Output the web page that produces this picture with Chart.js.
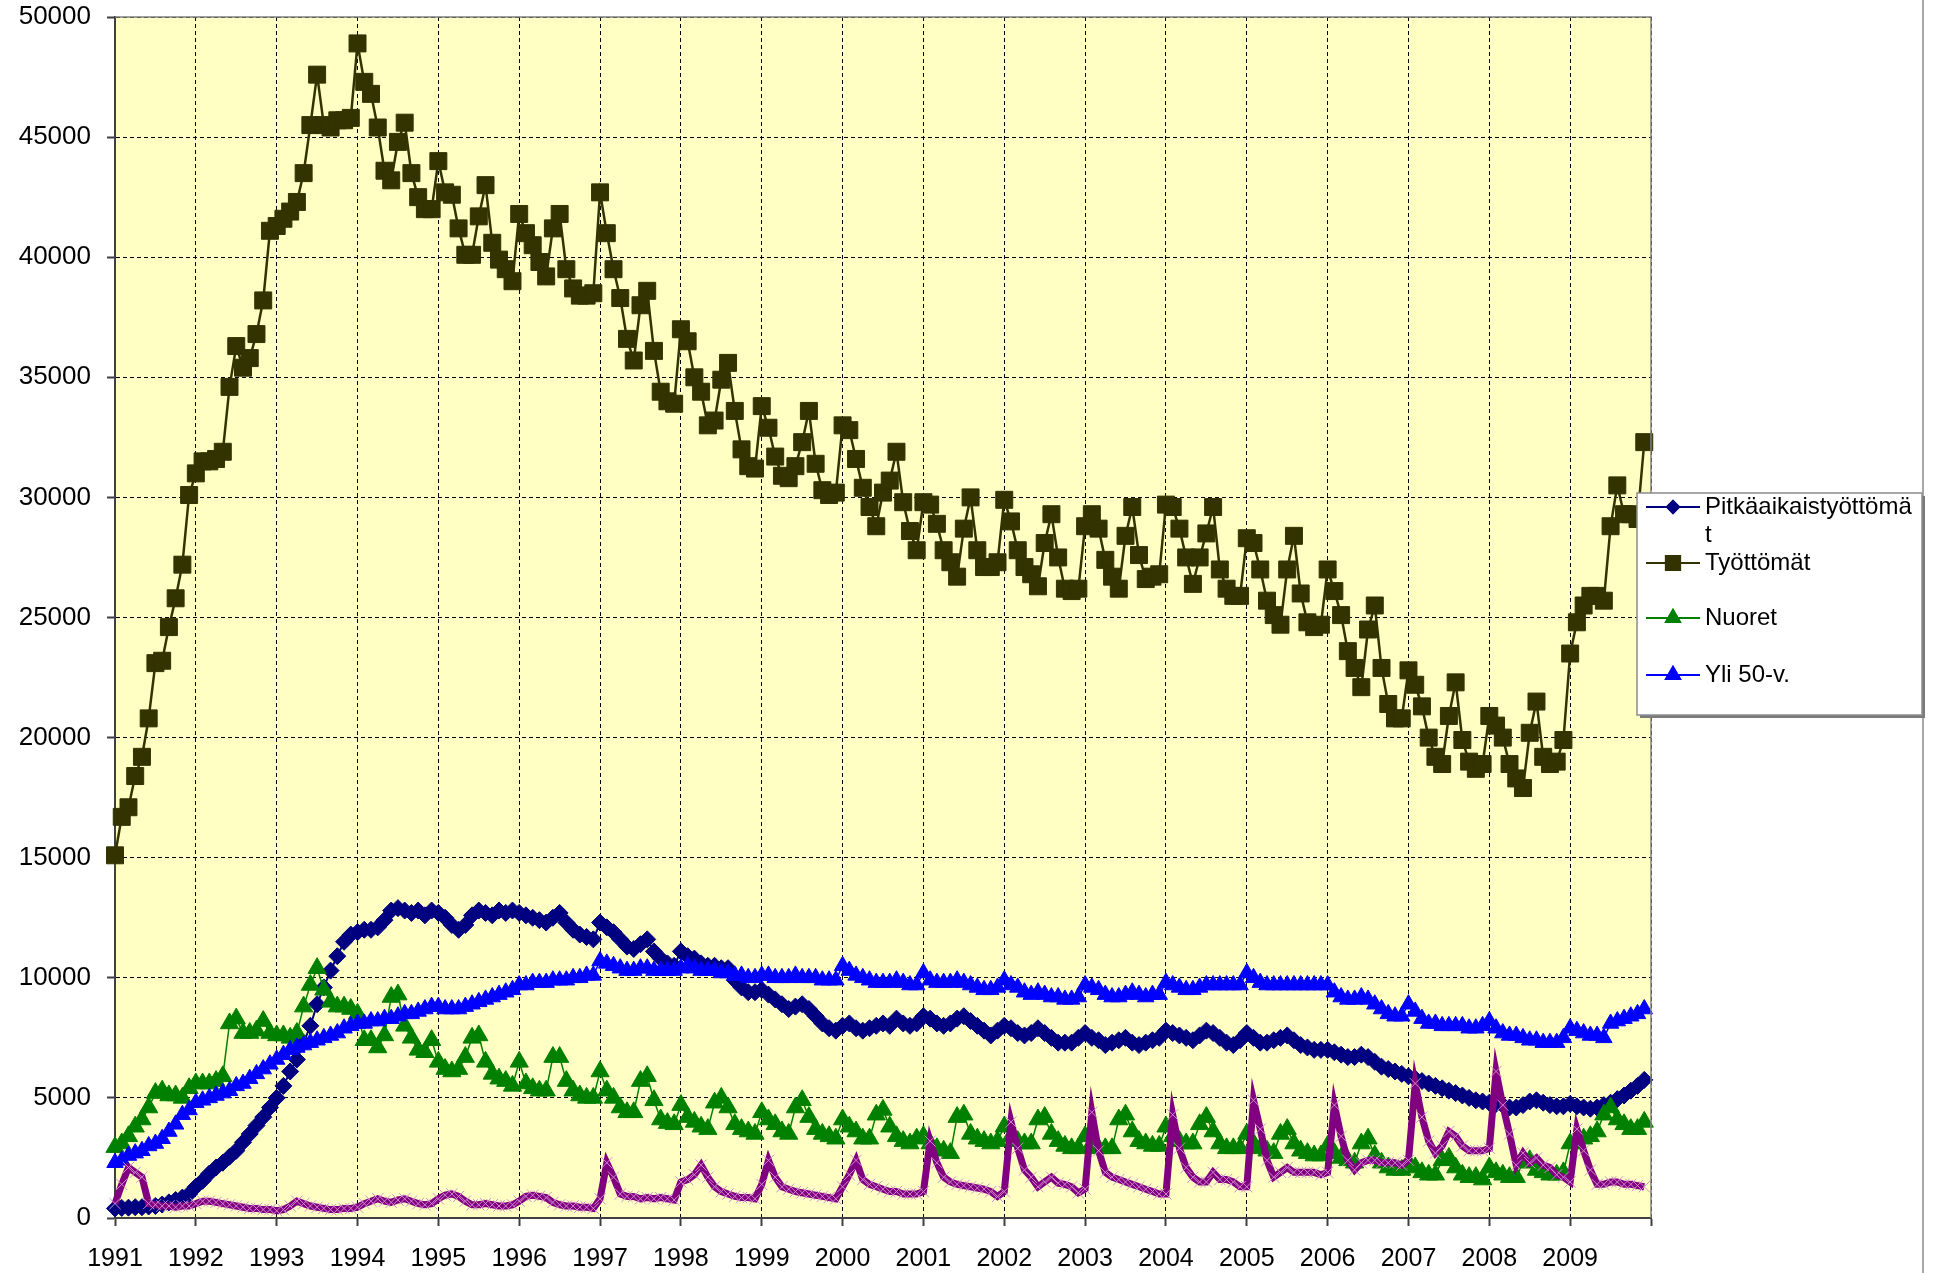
<!DOCTYPE html>
<html>
<head>
<meta charset="utf-8">
<title>Työttömät 1991–2009</title>
<script src="https://cdn.jsdelivr.net/npm/chart.js@4.4.1/dist/chart.umd.min.js"></script>
<style>
  html, body { margin: 0; padding: 0; background: #fff; }
  #wrap { position: relative; width: 1934px; height: 1273px; }
</style>
</head>
<body>
<div id="wrap"><canvas id="chart" width="1934" height="1273"></canvas></div>
<script>
// monthly values, Jan 1991 .. Dec 2009 (one row per year)
const yearLabels = ["1991", "1992", "1993", "1994", "1995", "1996", "1997", "1998", "1999", "2000",
  "2001", "2002", "2003", "2004", "2005", "2006", "2007", "2008", "2009"];

const pitkaaikaistyottomat = [
  400, 420, 430, 450, 450, 480, 500, 560, 650, 750, 850, 1000,
  1300, 1550, 1850, 2100, 2300, 2550, 2800, 3150, 3500, 3850, 4200, 4600,
  5000, 5500, 6100, 6600, 7300, 8000, 8900, 9600, 10300, 10900, 11500, 11800,
  11900, 12000, 12000, 12100, 12400, 12800, 12900, 12800, 12700, 12800, 12600, 12800,
  12700, 12500, 12200, 12000, 12200, 12600, 12800, 12700, 12600, 12800, 12700, 12800,
  12700, 12600, 12500, 12400, 12300, 12500, 12700, 12300, 12000, 11800, 11700, 11600,
  12300, 12100, 11900, 11600, 11300, 11200, 11400, 11600, 11100, 10800, 10600, 10500,
  11100, 10900, 10800, 10600, 10500, 10500, 10400, 10400, 9900, 9600, 9400, 9400,
  9500, 9300, 9100, 8900, 8700, 8800, 8900, 8700, 8400, 8100, 7900, 7800,
  8000, 8100, 7900, 7800, 7900, 8000, 8100, 8000, 8300, 8100, 8000, 8100,
  8400, 8300, 8100, 8000, 8100, 8300, 8400, 8200, 8000, 7800, 7600, 7800,
  8000, 7900, 7700, 7600, 7700, 7900, 7700, 7500, 7300, 7300, 7300, 7500,
  7700, 7500, 7400, 7200, 7300, 7400, 7500, 7300, 7200, 7300, 7400, 7500,
  7800, 7700, 7600, 7500, 7400, 7600, 7800, 7700, 7500, 7300, 7200, 7400,
  7700, 7500, 7300, 7300, 7400, 7500, 7600, 7400, 7200, 7100, 7000, 7000,
  7000, 6900, 6800, 6700, 6700, 6800, 6700, 6500, 6300, 6200, 6100, 6000,
  5900, 5800, 5700, 5600, 5500, 5400, 5300, 5200, 5100, 5000, 4900, 4850,
  4800, 4750, 4700, 4600, 4600, 4700, 4850, 4900, 4800, 4700, 4650, 4650,
  4750, 4650, 4600, 4550, 4600, 4700, 4800, 4950, 5100, 5300, 5500, 5750,
];

const tyottomat = [
  15100, 16700, 17100, 18400, 19200, 20800, 23100, 23200, 24600, 25800, 27200, 30100,
  31000, 31500, 31500, 31600, 31900, 34600, 36300, 35400, 35800, 36800, 38200, 41100,
  41300, 41600, 41900, 42300, 43500, 45500, 47600, 45500, 45400, 45700, 45700, 45800,
  48900, 47300, 46800, 45400, 43600, 43200, 44800, 45600, 43500, 42500, 42000, 42000,
  44000, 42700, 42600, 41200, 40100, 40100, 41700, 43000, 40600, 39900, 39500, 39000,
  41800, 41000, 40500, 39800, 39200, 41200, 41800, 39500, 38700, 38400, 38400, 38500,
  42700, 41000, 39500, 38300, 36600, 35700, 38000, 38600, 36100, 34400, 34000, 33900,
  37000, 36500, 35000, 34400, 33000, 33200, 34900, 35600, 33600, 32000, 31300, 31200,
  33800, 32900, 31700, 30900, 30800, 31300, 32300, 33600, 31400, 30300, 30100, 30200,
  33000, 32800, 31600, 30400, 29600, 28800, 30200, 30700, 31900, 29800, 28600, 27800,
  29800, 29700, 28900, 27800, 27300, 26700, 28700, 30000, 27800, 27100, 27100, 27300,
  29900, 29000, 27800, 27100, 26800, 26300, 28100, 29300, 27500, 26200, 26100, 26200,
  28800, 29300, 28700, 27400, 26700, 26200, 28400, 29600, 27600, 26600, 26700, 26800,
  29700, 29600, 28700, 27500, 26400, 27500, 28500, 29600, 27000, 26200, 25900, 25900,
  28300, 28100, 27000, 25700, 25100, 24700, 27000, 28400, 26000, 24800, 24600, 24700,
  27000, 26100, 25100, 23600, 22900, 22100, 24500, 25500, 22900, 21400, 20800, 20800,
  22800, 22200, 21300, 20000, 19200, 18900, 20900, 22300, 19900, 19000, 18700, 18900,
  20900, 20500, 20000, 18900, 18300, 17900, 20200, 21500, 19200, 18900, 19000, 19900,
  23500, 24800, 25500, 25900, 25900, 25700, 28800, 30500, 29300, 29300, 29100, 32300,
];

const nuoret = [
  2950, 3100, 3400, 3800, 4100, 4600, 5200, 5300, 5100, 5100, 5000, 5400,
  5600, 5600, 5600, 5700, 5900, 8100, 8300, 7700, 7700, 7800, 8200, 7700,
  7600, 7600, 7500, 7700, 8800, 9700, 10400, 9500, 9000, 8800, 8800, 8700,
  8500, 7400, 7400, 7100, 7600, 9200, 9300, 8000, 7500, 7000, 6900, 7400,
  6500, 6200, 6100, 6200, 6700, 7500, 7600, 6500, 6000, 5800, 5700, 5500,
  6500, 5600, 5400, 5300, 5300, 6700, 6700, 5700, 5300, 5100, 5000, 5000,
  6100, 5300, 5000, 4600, 4400, 4400, 5700, 5900, 4900, 4100, 3950, 3900,
  4700, 4200, 4000, 3800, 3700, 4800, 5000, 4600, 3900, 3700, 3600, 3500,
  4400, 4100, 3900, 3600, 3500, 4600, 4900, 4200, 3700, 3500, 3400, 3300,
  4100, 3800, 3600, 3300, 3300, 4300, 4500, 3800, 3400, 3200, 3100, 3300,
  3400, 3100, 2900, 2800, 2700, 4200, 4300, 3500, 3300, 3200, 3100, 3200,
  3800, 3400, 3200, 3100, 3100, 4100, 4200, 3500, 3200, 3000, 2900, 2900,
  3400, 3100, 2900, 2900, 2900, 4100, 4300, 3600, 3200, 3100, 3000, 3000,
  3800, 3400, 3200, 3100, 3100, 3900, 4200, 3600, 3100, 2900, 2900, 2900,
  3500, 3100, 2900, 2800, 2700, 3500, 3700, 3100, 2800, 2700, 2600, 2600,
  3000, 2700, 2500, 2400, 2300, 3100, 3300, 2600, 2300, 2100, 2000, 2000,
  2300, 2100, 1900, 1800, 1800, 2400, 2500, 2100, 1800, 1700, 1700, 1600,
  2100, 1900, 1800, 1700, 1700, 2300, 2400, 2000, 1900, 1800, 1800, 1900,
  3100, 3200, 3300, 3400, 3600, 4300, 4600, 4100, 3900, 3700, 3700, 4000,
];

const yli50 = [
  2300, 2400, 2600, 2700, 2800, 3000, 3100, 3300, 3600, 3900, 4300, 4500,
  4800, 4900, 5000, 5100, 5200, 5300, 5500, 5600, 5800, 6000, 6200, 6400,
  6600, 6800, 7000, 7100, 7200, 7300, 7400, 7500, 7600, 7700, 7900, 8000,
  8100, 8100, 8200, 8200, 8300, 8300, 8400, 8500, 8500, 8600, 8700, 8800,
  8800, 8700, 8700, 8700, 8800, 8900, 9000, 9100, 9200, 9300, 9400, 9500,
  9700, 9700, 9800, 9800, 9800, 9900, 9900, 9900, 10000, 10000, 10100, 10100,
  10700, 10600, 10500, 10400, 10300, 10300, 10400, 10400, 10300, 10300, 10300, 10300,
  10400, 10500, 10400, 10300, 10300, 10300, 10200, 10200, 10100, 10100, 10000, 10000,
  10100, 10100, 10000, 10000, 10000, 10100, 10000, 10000, 10000, 9900, 9900, 9900,
  10500, 10300, 10100, 10000, 9900, 9800, 9800, 9800, 9900, 9800, 9700, 9700,
  10200, 9900, 9800, 9800, 9800, 9900, 9800, 9700, 9600, 9500, 9500, 9600,
  9900, 9700, 9600, 9400, 9300, 9400, 9300, 9200, 9200, 9100, 9100, 9200,
  9700, 9600, 9500, 9300, 9200, 9200, 9300, 9400, 9300, 9200, 9300, 9300,
  9800, 9700, 9600, 9500, 9500, 9600, 9700, 9700, 9700, 9700, 9700, 9700,
  10200, 10000, 9800, 9700, 9700, 9700, 9700, 9700, 9700, 9700, 9700, 9700,
  9700, 9400, 9200, 9100, 9100, 9200, 9100, 8900, 8700, 8500, 8400, 8400,
  8900, 8600, 8300, 8100, 8100, 8000, 8000, 8000, 8000, 7900, 7900, 8000,
  8200, 7900, 7700, 7600, 7600, 7500, 7400, 7400, 7300, 7300, 7300, 7500,
  7900, 7800, 7700, 7600, 7600, 7500, 8100, 8200, 8300, 8400, 8500, 8700,
];

// fifth series (purple, not shown in the legend)
const sarja5 = [
  600, 1400, 2100, 1900, 1700, 600, 550, 500, 500, 450, 500, 500,
  600, 700, 700, 650, 600, 550, 500, 450, 400, 400, 350, 350,
  300, 350, 500, 700, 600, 500, 450, 400, 350, 350, 400, 400,
  450, 600, 700, 800, 700, 650, 750, 800, 700, 600, 550, 600,
  800, 950, 1000, 900, 700, 550, 550, 600, 550, 500, 500, 550,
  700, 900, 950, 900, 850, 650, 550, 500, 500, 450, 450, 400,
  800, 2300, 1700, 1000, 900, 900, 800, 850, 800, 850, 800, 750,
  1500, 1600, 1800, 2200, 1700, 1300, 1100, 1000, 900, 850, 850, 800,
  1400, 2400, 1700, 1300, 1200, 1100, 1050, 1000, 950, 900, 850, 800,
  1300, 1800, 2400, 1600, 1400, 1300, 1200, 1100, 1100, 1000, 1000, 1000,
  1100, 3200, 2300, 1700, 1500, 1400, 1350, 1300, 1250, 1200, 1100, 900,
  1100, 4000, 2900, 2000, 1700, 1300, 1500, 1700, 1450, 1400, 1300, 1050,
  1200, 4400, 2800, 1900, 1700, 1600, 1500, 1400, 1300, 1200, 1100, 1000,
  1000, 4300, 2900, 2100, 1700, 1500, 1500, 1900, 1600, 1600, 1500, 1300,
  1300, 4900, 3700, 2400, 1700, 1900, 2100, 1900, 1900, 1900, 1900, 1800,
  1900, 4700, 3400, 2400, 2000, 2300, 2400, 2400, 2300, 2300, 2300, 2200,
  2400, 5600, 4200, 3200, 2700, 3000, 3600, 3400, 3000, 2800, 2800, 2800,
  2900, 6100, 4700, 3500, 2200, 2700, 2300, 2500, 2200, 2100, 1800, 1700,
  1500, 3700, 2800, 2000, 1400, 1400, 1500, 1500, 1400, 1400, 1350, 1300,
];

const FONT = "'Liberation Sans', Arial, sans-serif";

function pts(values) {
  return values.map((v, i) => ({ x: i, y: v }));
}

// yellow plot area + grey frame on top/right
const plotBackground = {
  id: "plotBackground",
  beforeDraw(chart) {
    const { ctx, chartArea: a } = chart;
    ctx.save();
    ctx.fillStyle = "#FFFFC4";
    ctx.fillRect(a.left, a.top, a.right - a.left, a.bottom - a.top);
    ctx.restore();
  },
  afterDraw(chart) {
    const { ctx, chartArea: a } = chart;
    ctx.save();
    ctx.strokeStyle = "#808080";
    ctx.lineWidth = 1.5;
    ctx.beginPath();
    ctx.moveTo(a.left, a.top);
    ctx.lineTo(a.right, a.top);
    ctx.lineTo(a.right, a.bottom);
    ctx.stroke();
    // outer frame line at the far right
    ctx.strokeStyle = "#a8a8a8";
    ctx.lineWidth = 2;
    ctx.beginPath();
    ctx.moveTo(1923, 0);
    ctx.lineTo(1923, chart.height);
    ctx.stroke();
    ctx.restore();
  },
};

// Excel-like legend box that sits over the right edge of the plot
const boxLegend = {
  id: "boxLegend",
  afterDraw(chart) {
    const { ctx } = chart;
    const x = 1637, y = 493, w = 285, h = 222;
    ctx.save();
    ctx.fillStyle = "#7a7a7a";
    ctx.fillRect(x + 3, y + 3, w, h);
    ctx.fillStyle = "#ffffff";
    ctx.fillRect(x, y, w, h);
    ctx.strokeStyle = "#8c8c8c";
    ctx.lineWidth = 1.5;
    ctx.strokeRect(x, y, w, h);

    const rows = [
      { ds: 0, y: 507, text: "Pitkäaikaistyöttömä" },
      { ds: null, y: 535, text: "t" },
      { ds: 1, y: 563, text: "Työttömät" },
      { ds: 2, y: 618, text: "Nuoret" },
      { ds: 3, y: 675, text: "Yli 50-v." },
    ];
    const sizes = [6, 10, 8, 8];
    ctx.font = `24px ${FONT}`;
    ctx.textBaseline = "middle";
    rows.forEach((row) => {
      if (row.ds !== null) {
        const ds = chart.data.datasets[row.ds];
        ctx.strokeStyle = ds.borderColor;
        ctx.lineWidth = 2;
        ctx.beginPath();
        ctx.moveTo(1646, row.y);
        ctx.lineTo(1700, row.y);
        ctx.stroke();
        ctx.fillStyle = ds.backgroundColor;
        Chart.helpers.drawPoint(ctx, { pointStyle: ds.pointStyle, radius: sizes[row.ds], borderWidth: 1 }, 1673, row.y);
        ctx.fill();
        ctx.stroke();
      }
      ctx.fillStyle = "#000";
      ctx.fillText(row.text, 1705, row.y);
    });
    ctx.restore();
  },
};

const ctx = document.getElementById("chart").getContext("2d");
new Chart(ctx, {
  type: "line",
  data: {
    datasets: [
      {
        label: "Pitkäaikaistyöttömät",
        data: pts(pitkaaikaistyottomat),
        borderColor: "#000080",
        backgroundColor: "#000080",
        borderWidth: 2,
        pointStyle: "rectRot",
        pointRadius: 8.5,
        pointBorderWidth: 1,
        order: 4,
      },
      {
        label: "Työttömät",
        data: pts(tyottomat),
        borderColor: "#333300",
        backgroundColor: "#333300",
        borderWidth: 2.5,
        pointStyle: "rect",
        pointRadius: 12,
        pointBorderWidth: 1,
        order: 3,
      },
      {
        label: "Nuoret",
        data: pts(nuoret),
        borderColor: "#008000",
        backgroundColor: "#008000",
        borderWidth: 1.5,
        pointStyle: "triangle",
        pointRadius: 10.5,
        pointBorderWidth: 1,
        order: 2,
      },
      {
        label: "Yli 50-v.",
        data: pts(yli50),
        borderColor: "#0000FF",
        backgroundColor: "#0000FF",
        borderWidth: 1.5,
        pointStyle: "triangle",
        pointRadius: 9.5,
        pointBorderWidth: 1,
        order: 1,
      },
      {
        label: "Sarja 5",
        data: pts(sarja5),
        borderColor: "#800080",
        backgroundColor: "#800080",
        borderWidth: 7,
        pointStyle: "crossRot",
        pointRadius: 8,
        pointBorderColor: "#d08ad0",
        pointBorderWidth: 1,
        order: 0,
      },
    ],
  },
  options: {
    responsive: false,
    animation: false,
    devicePixelRatio: 1,
    events: [],
    clip: false,
    layout: { padding: { top: 17, right: 283, left: 0, bottom: 0 } },
    elements: { line: { tension: 0 } },
    plugins: {
      legend: { display: false },
      tooltip: { enabled: false },
    },
    scales: {
      x: {
        type: "linear",
        min: 0,
        max: yearLabels.length * 12,
        afterFit: (scale) => {
          scale.height = 55;
          scale.paddingLeft = 0;
          scale.paddingRight = 0;
        },
        grid: {
          color: "#000",
          lineWidth: 1,
          tickLength: 8,
          tickColor: "#404040",
          tickWidth: 2,
          tickBorderDash: [],
        },
        border: { display: true, color: "#404040", width: 2, dash: [4, 3] },
        ticks: {
          stepSize: 12,
          maxTicksLimit: 40,
          autoSkip: false,
          maxRotation: 0,
          padding: 18,
          color: "#000",
          font: { family: FONT, size: 25 },
          callback: (v) => (v % 12 === 0 && v / 12 < yearLabels.length ? yearLabels[v / 12] : ""),
        },
      },
      y: {
        min: 0,
        max: 50000,
        afterFit: (scale) => {
          scale.width = 115;
          scale.paddingTop = 0;
          scale.paddingBottom = 0;
        },
        grid: {
          color: "#000",
          lineWidth: 1,
          tickLength: 8,
          tickColor: "#404040",
          tickWidth: 2,
          tickBorderDash: [],
        },
        border: { display: true, color: "#404040", width: 2, dash: [4, 3] },
        ticks: {
          stepSize: 5000,
          padding: 16,
          color: "#000",
          font: { family: FONT, size: 26 },
          callback: (v) => String(v),
        },
      },
    },
  },
  plugins: [plotBackground, boxLegend],
});
</script>
</body>
</html>
